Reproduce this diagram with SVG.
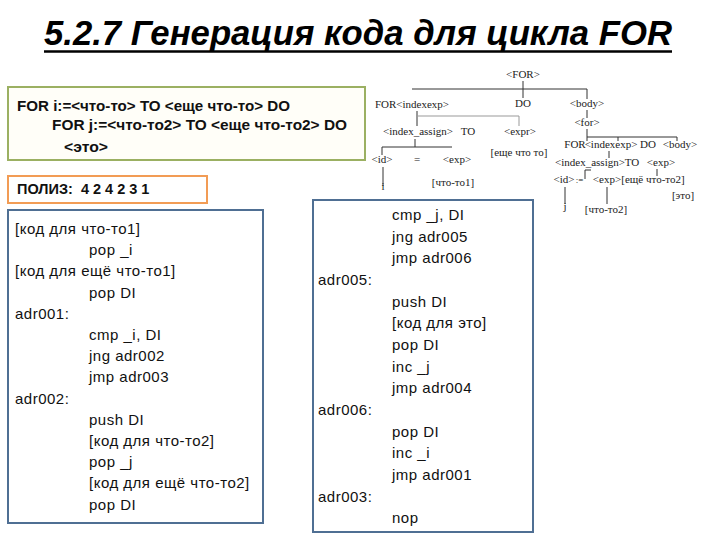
<svg xmlns="http://www.w3.org/2000/svg" width="720" height="540" viewBox="0 0 720 540">
<style>
.title{font-family:"Liberation Sans",Arial,sans-serif;font-weight:bold;font-style:italic;font-size:35px;fill:#000}
.hd{font-family:"Liberation Sans",Arial,sans-serif;font-weight:bold;font-size:14.5px;fill:#111}
.code{font-family:"Liberation Sans",Arial,sans-serif;font-size:15px;fill:#111;letter-spacing:0.5px}
.tr{font-family:"Liberation Serif","Times New Roman",serif;font-size:11px;fill:#222;text-anchor:middle}
.ln{stroke:#333;stroke-width:1;fill:none}
.lnl{stroke:#999;stroke-width:1;fill:none}
</style>
<rect width="720" height="540" fill="#fff"/>
<g id="title">
<text class="title" x="44" y="45" textLength="628" lengthAdjust="spacingAndGlyphs">5.2.7 Генерация кода для цикла FOR</text>
<line x1="44" y1="51.5" x2="672" y2="51.5" stroke="#000" stroke-width="2.5"/>
</g>
<g id="source">
<rect x="8" y="87" width="357" height="73" fill="#fffef8" stroke="#9bb062" stroke-width="2"/>
<text class="hd" x="17" y="111" textLength="273" lengthAdjust="spacingAndGlyphs">FOR i:=&lt;что-то&gt; TO &lt;еще что-то&gt; DO</text>
<text class="hd" x="52" y="130" textLength="295" lengthAdjust="spacingAndGlyphs">FOR j:=&lt;что-то2&gt; TO &lt;еще что-то2&gt; DO</text>
<text class="hd" x="64" y="152" textLength="44" lengthAdjust="spacingAndGlyphs">&lt;это&gt;</text>
</g>
<g id="poliz">
<rect x="8" y="176" width="199" height="27" fill="#fff" stroke="#f29c55" stroke-width="2"/>
<text class="hd" x="17" y="194" xml:space="preserve">ПОЛИЗ:  4 2 4 2 3 1</text>
</g>
<g id="code-left">
<rect x="8" y="210" width="255" height="313" fill="#fff" stroke="#4f6f93" stroke-width="2"/>
<text class="code" x="15" y="234">[код для что-то1]</text>
<text class="code" x="89" y="255.2">pop _i</text>
<text class="code" x="15" y="276.4">[код для ещё что-то1]</text>
<text class="code" x="89" y="297.6">pop DI</text>
<text class="code" x="15" y="318.8">adr001:</text>
<text class="code" x="89" y="340">cmp _i, DI</text>
<text class="code" x="89" y="361.2">jng adr002</text>
<text class="code" x="89" y="382.4">jmp adr003</text>
<text class="code" x="15" y="403.6">adr002:</text>
<text class="code" x="89" y="424.8">push DI</text>
<text class="code" x="89" y="446">[код для что-то2]</text>
<text class="code" x="89" y="467.2">pop _j</text>
<text class="code" x="89" y="488.4">[код для ещё что-то2]</text>
<text class="code" x="89" y="509.6">pop DI</text>
</g>
<g id="code-right">
<rect x="313" y="200" width="220" height="332" fill="#fff" stroke="#4f6f93" stroke-width="2"/>
<text class="code" x="392" y="220">cmp _j, DI</text>
<text class="code" x="392" y="241.6">jng adr005</text>
<text class="code" x="392" y="263.3">jmp adr006</text>
<text class="code" x="318" y="285">adr005:</text>
<text class="code" x="392" y="306.6">push DI</text>
<text class="code" x="392" y="328.3">[код для это]</text>
<text class="code" x="392" y="349.9">pop DI</text>
<text class="code" x="392" y="371.6">inc _j</text>
<text class="code" x="392" y="393.2">jmp adr004</text>
<text class="code" x="318" y="414.9">adr006:</text>
<text class="code" x="392" y="436.5">pop DI</text>
<text class="code" x="392" y="458.2">inc _i</text>
<text class="code" x="392" y="479.8">jmp adr001</text>
<text class="code" x="318" y="501.5">adr003:</text>
<text class="code" x="392" y="523.1">nop</text>
</g>
<g id="tree-connectors">
<path class="ln" d="M523,81 V98 M412,89 H587 V99"/>
<path class="ln" d="M417,111 V126"/>
<path class="lnl" d="M417,116 H519 V126"/>
<path class="ln" d="M415,139 V147 M382,147 H452 M382,147 V155"/>
<path class="ln" d="M383,167 V186"/>
<path class="ln" d="M587,110 V118 M587,129 V141 M587,137 H677 V141 M618,137 V141"/>
<path class="ln" d="M609,151 V158"/>
<path class="ln" d="M591,170 H585 V179"/>
<path class="ln" d="M657,169 V176"/>
<path class="ln" d="M565,187 V204 M607,187 V204"/>
</g>
<g id="tree-nodes">
<text class="tr" x="523" y="78">&lt;FOR&gt;</text>
<text class="tr" x="412" y="108">FOR&lt;indexexp&gt;</text>
<text class="tr" x="523" y="107">DO</text>
<text class="tr" x="587" y="107">&lt;body&gt;</text>
<text class="tr" x="418" y="135">&lt;index_assign&gt;</text>
<text class="tr" x="468" y="135">TO</text>
<text class="tr" x="520" y="135">&lt;expr&gt;</text>
<text class="tr" x="382" y="163">&lt;id&gt;</text>
<text class="tr" x="417" y="163">=</text>
<text class="tr" x="457" y="163">&lt;exp&gt;</text>
<text class="tr" x="383" y="190">i</text>
<text class="tr" x="519" y="156" fill="#7a3a10">[еще что то]</text>
<text class="tr" x="453" y="186" fill="#3d6b2b">[что-то1]</text>
<text class="tr" x="587" y="126">&lt;for&gt;</text>
<text class="tr" x="575" y="148">FOR</text>
<text class="tr" x="611" y="148">&lt;indexexp&gt;</text>
<text class="tr" x="648" y="148">DO</text>
<text class="tr" x="680" y="148">&lt;body&gt;</text>
<text class="tr" x="590" y="166">&lt;index_assign&gt;</text>
<text class="tr" x="632" y="166">TO</text>
<text class="tr" x="661" y="166">&lt;exp&gt;</text>
<text class="tr" x="564" y="183">&lt;id&gt;</text>
<text class="tr" x="579.5" y="183" style="font-size:9px">:=</text>
<text class="tr" x="607" y="183">&lt;exp&gt;</text>
<text class="tr" x="653" y="183">[ещё что-то2]</text>
<text class="tr" x="683" y="199" fill="#3b4a6b">[это]</text>
<text class="tr" x="565" y="210">j</text>
<text class="tr" x="606" y="213">[что-то2]</text>
</g>
</svg>
